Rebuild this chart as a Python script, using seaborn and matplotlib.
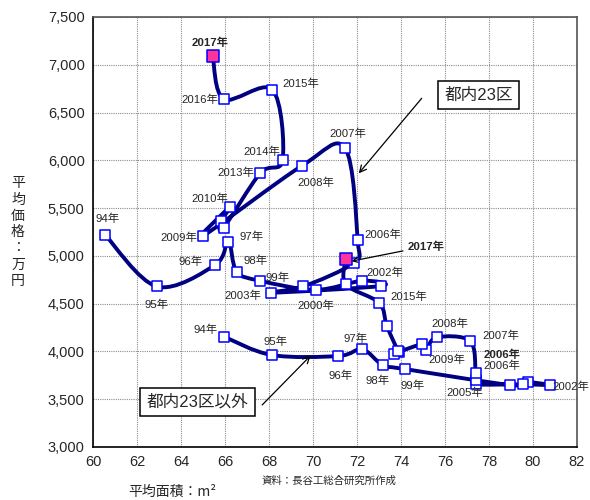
import numpy as np
import pandas as pd
import matplotlib
matplotlib.use("Agg")
import matplotlib.pyplot as plt
from matplotlib.path import Path
from matplotlib.patches import PathPatch
import seaborn as sns

# DATA
years = ["94", "95", "96", "97", "98", "99", "2000", "2001", "2002", "2003", "2004", "2005",
         "2006", "2007", "2008", "2009", "2010", "2011", "2012", "2013", "2014", "2015", "2016", "2017"]

ward_area = [60.55, 62.9, 65.55, 66.15, 66.53, 67.59, 70.12, 72.24, 73.09, 68.08, 69.56, 71.86,
             72.03, 71.45, 69.51, 65.01, 66.24, 65.82, 65.94, 67.6, 68.62, 68.15, 65.95, 65.44]
ward_price = [5220, 4680, 4905, 5150, 4835, 4740, 4645, 4740, 4685, 4615, 4680, 4930,
              5165, 6130, 5945, 5210, 5515, 5360, 5295, 5865, 6005, 6740, 6640, 7095]

outer_area = [65.95, 68.12, 71.15, 72.24, 73.17, 74.17, 78.95, 79.76, 80.77, 79.56, 77.4, 77.4,
              77.39, 77.14, 75.62, 75.14, 74.97, 73.9, 73.7, 73.85, 73.35, 73.0, 71.49, 71.49]
outer_price = [4155, 3963, 3952, 4022, 3858, 3816, 3649, 3677, 3649, 3656, 3655, 3701,
               3778, 4110, 4148, 4015, 4075, 3995, 3975, 4000, 4270, 4510, 4703, 4968]

x_ticks = list(range(60, 83, 2))
y_ticks = list(range(3000, 7501, 500))

# point labels: year -> (text, dx px, dy px, ha, bold)
ward_labels = {
    "94": ("94年", 2, 16, "center", False),
    "95": ("95年", 0, -18, "center", False),
    "96": ("96年", -12, 3, "right", False),
    "97": ("97年", 11, 5, "left", False),
    "98": ("98年", 7, 11, "left", False),
    "99": ("99年", 6, 3, "left", False),
    "2000": ("2000年", 0, -16, "center", False),
    "2002": ("2002年", 4, 13, "center", False),
    "2003": ("2003年", -10, -3, "right", False),
    "2006": ("2006年", 7, 5, "left", False),
    "2007": ("2007年", 3, 14, "center", False),
    "2008": ("2008年", 14, -17, "center", False),
    "2009": ("2009年", -6, -2, "right", False),
    "2010": ("2010年", -2, 8, "right", False),
    "2013": ("2013年", -6, 0, "right", False),
    "2014": ("2014年", -2, 8, "right", False),
    "2015": ("2015年", 10, 6, "left", False),
    "2016": ("2016年", -6, -1, "right", False),
    "2017": ("2017年", -3, 13, "center", True),
}
outer_labels = {
    "94": ("94年", -6, 7, "right", False),
    "95": ("95年", 4, 13, "center", False),
    "96": ("96年", 2, -20, "center", False),
    "97": ("97年", -7, 11, "center", False),
    "98": ("98年", -5, -16, "center", False),
    "99": ("99年", 8, -17, "center", False),
    "2002": ("2002年", 2, -2, "left", False),
    "2005": ("2005年", -11, -13, "center", False),
    "2006": ("2006年", 8, 7, "left", False),
    "2007": ("2007年", 12, 5, "left", False),
    "2008": ("2008年", 13, 14, "center", False),
    "2009": ("2009年", 21, -10, "center", False),
    "2015": ("2015年", 11, 6, "left", False),
}

NAVY = "#000080"
BLUE = "#0000FF"
MAGENTA = "#FF3399"


def smooth_path(x, y):
    # Catmull-Rom style bezier segments, similar to Excel smoothed lines
    pts = np.column_stack([x, y]).astype(float)
    n = len(pts)
    verts = [pts[0]]
    codes = [Path.MOVETO]
    for i in range(n - 1):
        p0 = pts[i - 1] if i > 0 else pts[i]
        p1 = pts[i]
        p2 = pts[i + 1]
        p3 = pts[i + 2] if i + 2 < n else pts[i + 1]
        verts += [p1 + (p2 - p0) / 6, p2 - (p3 - p1) / 6, p2]
        codes += [Path.CURVE4] * 3
    return Path(verts, codes)


sns.set_theme(style="white")
plt.rcParams['font.family'] = ['Liberation Sans', 'Noto Sans CJK JP', 'DejaVu Sans']

df = pd.concat([
    pd.DataFrame({"year": years, "area": ward_area, "price": ward_price, "region": "ward"}),
    pd.DataFrame({"year": years, "area": outer_area, "price": outer_price, "region": "outer"}),
], ignore_index=True)

fig = plt.figure(figsize=(5.9, 5.0), dpi=100)
ax = fig.add_axes([93 / 590, 53 / 500, 484 / 590, 430 / 500])

for region in ["ward", "outer"]:
    sub = df[df.region == region]
    ax.add_patch(PathPatch(smooth_path(sub.area, sub.price), facecolor="none",
                           edgecolor=NAVY, lw=2.8, zorder=2, capstyle="round", joinstyle="round"))

sns.scatterplot(data=df[df.year != "2017"], x="area", y="price", marker="s", s=50,
                color="white", edgecolor=BLUE, linewidth=1.1, ax=ax, zorder=3, legend=False)
sns.scatterplot(data=df[df.year == "2017"], x="area", y="price", marker="s", s=64,
                color=MAGENTA, edgecolor=BLUE, linewidth=1.1, ax=ax, zorder=4, legend=False)

for region, labels in [("ward", ward_labels), ("outer", outer_labels)]:
    sub = df[df.region == region].set_index("year")
    for yr, (txt, dx, dy, ha, bold) in labels.items():
        ax.annotate(txt, (sub.loc[yr, "area"], sub.loc[yr, "price"]), xytext=(dx, dy),
                    textcoords="offset pixels", ha=ha, va="center", fontsize=8.2,
                    fontweight="bold" if bold else "normal", zorder=5)

# extra labels from the original
outer = df[df.region == "outer"].set_index("year")
ax.annotate("2006年", (outer.loc["2006", "area"], outer.loc["2006", "price"]), xytext=(8, 18),
            textcoords="offset pixels", ha="left", va="center", fontsize=8.2, fontweight="bold")
ax.annotate("2017年", xy=(71.75, 4945), xytext=(74.3, 5100), ha="left", va="center",
            fontsize=8.2, fontweight="bold",
            arrowprops=dict(arrowstyle="->", color="black", lw=0.9, shrinkA=1, shrinkB=0))

# callout boxes
ax.annotate("", xy=(72.08, 5864), xytext=(74.94, 6649),
            arrowprops=dict(arrowstyle="->", color="black", lw=0.9, shrinkA=0, shrinkB=0))
ax.text(77.52, 6681, "都内23区", ha="center", va="center", fontsize=12,
        bbox=dict(boxstyle="square,pad=0.38", facecolor="white", edgecolor="black", lw=1.1))
ax.annotate("", xy=(69.89, 3956), xytext=(67.69, 3440),
            arrowprops=dict(arrowstyle="->", color="black", lw=0.9, shrinkA=0, shrinkB=0))
ax.text(64.75, 3474, "都内23区以外", ha="center", va="center", fontsize=12,
        bbox=dict(boxstyle="square,pad=0.38", facecolor="white", edgecolor="black", lw=1.1))

ax.set_xlim(60, 82)
ax.set_ylim(3000, 7500)
ax.set_xticks(x_ticks)
ax.set_yticks(y_ticks)
ax.set_yticklabels([f"{v:,}" for v in y_ticks])
ax.tick_params(axis="both", direction="in", length=5, labelsize=10.5, color="black", pad=6)
ax.grid(True, color="#8c8c8c", linestyle=(0, (1, 1)), linewidth=0.8)
ax.set_axisbelow(True)
for side, sp in ax.spines.items():
    sp.set_color("black")
    sp.set_linewidth(1.2)
ax.spines["top"].set_color("#555555")
ax.spines["right"].set_color("#555555")
ax.set_xlabel("")
ax.set_ylabel("")

fig.text(18 / 590, 1 - 232 / 500, "\n".join("平均価格：万円"), ha="center", va="center",
         fontsize=10, linespacing=1.2, family=["Noto Sans CJK JP"])
fig.text(128 / 590, 1 - 492 / 500, "平均面積：m²", ha="left", va="center", fontsize=10,
         family=["Noto Sans CJK JP", "DejaVu Sans"])
fig.text(262 / 590, 1 - 481 / 500, "資料：長谷工総合研究所作成", ha="left", va="center", fontsize=7.5,
         family=["Noto Sans CJK JP"])

fig.savefig("out.png", dpi=100)
